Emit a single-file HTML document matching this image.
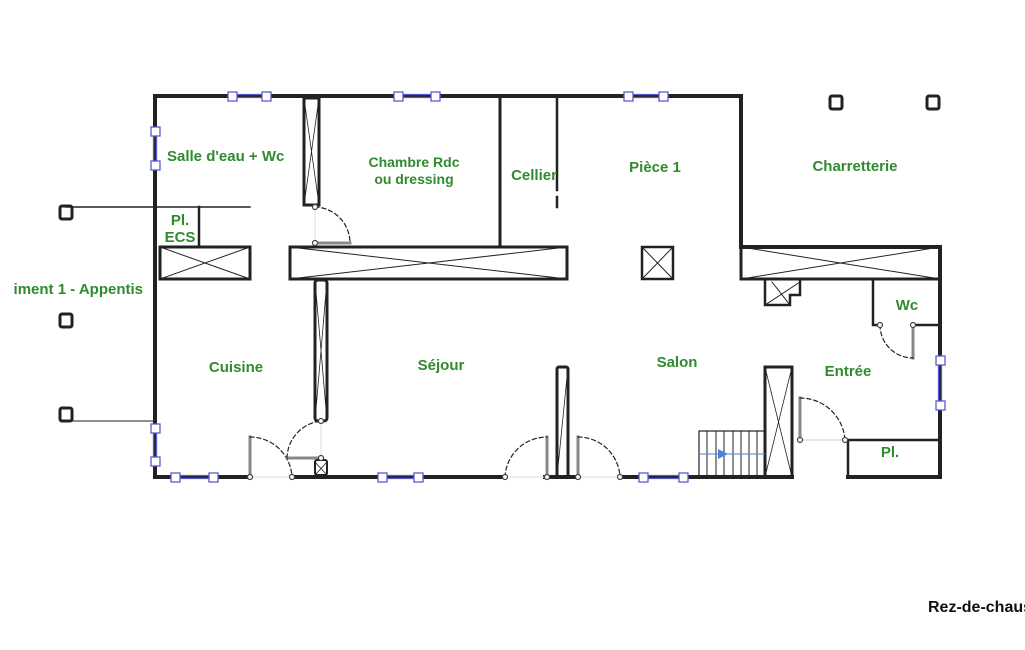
<!DOCTYPE html>
<html><head><meta charset="utf-8"><style>
html,body{margin:0;padding:0;background:#fff;width:1025px;height:650px;overflow:hidden}
svg{display:block}
text{font-family:"Liberation Sans",sans-serif;font-weight:bold;fill:#2e8b2e;font-size:15px}
</style></head><body>
<svg width="1025" height="650" viewBox="0 0 1025 650" xmlns="http://www.w3.org/2000/svg">
<g stroke="#222" fill="none" stroke-linecap="square">
<!-- outer walls -->
<path d="M155 96 H741 V247 H940 V477" stroke-width="4"/>
<path d="M155 96 V477 H250" stroke-width="4"/>
<path d="M292 477 H505" stroke-width="4"/>
<path d="M545 477 H578" stroke-width="4"/>
<path d="M620 477 H792" stroke-width="4"/>
<path d="M848 477 H940" stroke-width="4"/>
<!-- external lines -->
<path d="M66 207 H250" stroke-width="1.5"/>
<path d="M66 421 H155" stroke-width="1"/>
<!-- interior walls -->
<path d="M500 96 V247" stroke-width="3"/>
<path d="M557 96 V190 M557 197 V207" stroke-width="2.5"/>
<path d="M199 207 V247" stroke-width="2.5"/>
<!-- Salle d'eau partition -->
<rect x="304" y="98" width="15" height="107" stroke-width="3"/>
<path d="M304 98 L319 205 M319 98 L304 205" stroke-width="0.8"/>
<!-- beams -->
<rect x="160" y="247" width="90" height="32" stroke-width="3"/>
<path d="M160 247 L250 279 M250 247 L160 279" stroke-width="1"/>
<rect x="290" y="247" width="277" height="32" stroke-width="3"/>
<path d="M290 247 L567 279 M567 247 L290 279" stroke-width="1"/>
<rect x="642" y="247" width="31" height="32" stroke-width="2.5"/>
<path d="M642 247 L673 279 M673 247 L642 279" stroke-width="1"/>
<rect x="741" y="247" width="199" height="32" stroke-width="3"/>
<path d="M741 247 L940 279 M940 247 L741 279" stroke-width="1"/>
<path d="M765 280 V305 H790 V295 H800 V280" stroke-width="2.5"/>
<path d="M765 305 L800 282 M772 282 L790 305" stroke-width="1"/>
<!-- sejour partition -->
<rect x="315" y="280" width="12" height="141" rx="3" stroke-width="3"/>
<path d="M315 280 L327 421 M327 280 L315 421" stroke-width="0.8"/>
<!-- wc -->
<path d="M873 279 V325 H880 M915 325 H940" stroke-width="2.5"/>
<path d="M913 327 V358" stroke="#888" stroke-width="3"/>
<path d="M880 325 A33 33 0 0 0 913 358" stroke-dasharray="4,3" stroke-width="1.2"/>
<!-- pillar near stairs -->
<rect x="765" y="367" width="27" height="110" stroke-width="3"/>
<path d="M765 367 L792 477 M792 367 L765 477" stroke-width="0.8"/>
<!-- stairs -->
<rect x="699" y="431" width="66" height="46" stroke-width="1.2"/>
<path d="M707 431V477M716 431V477M724 431V477M733 431V477M741 431V477M749 431V477M757 431V477" stroke-width="1"/>
<!-- Pl. -->
<path d="M848 440 V477 M848 440 H940" stroke-width="2.5"/>
<path d="M800 398 V440" stroke="#888" stroke-width="3"/>
<path d="M800 398 A45 45 0 0 1 845 440" stroke-dasharray="4,3" stroke-width="1.2"/>
<path d="M800 440 H845" stroke="#ccc" stroke-width="1"/>
<!-- pillar near salon doors -->
<rect x="557" y="367" width="11" height="110" rx="2" stroke-width="3"/>
<path d="M557 477 L568 367" stroke-width="0.8"/>
<path d="M547 437 V477 M578 437 V477" stroke="#888" stroke-width="3"/>
<path d="M505 477 A42 42 0 0 1 547 437 M578 437 A42 42 0 0 1 620 477" stroke-dasharray="4,3" stroke-width="1.2"/>
<!-- cuisine door -->
<path d="M250 437 V477" stroke="#888" stroke-width="3"/>
<path d="M250 437 A42 42 0 0 1 292 477" stroke-dasharray="4,3" stroke-width="1.2"/>
<path d="M287 458 H321" stroke="#888" stroke-width="3"/>
<path d="M287 458 A38 38 0 0 1 321 421" stroke-dasharray="4,3" stroke-width="1.2"/>
<rect x="315" y="460" width="12" height="15" rx="2" stroke-width="2"/>
<path d="M315 462 L327 475 M327 462 L315 475" stroke-width="0.8"/>
<!-- chambre door -->
<path d="M315 243 H350" stroke="#888" stroke-width="3"/>
<path d="M315 207 A36 36 0 0 1 350 243" stroke-dasharray="4,3" stroke-width="1.2"/>
<path d="M315 207 V243 M321 421 V458 M250 477 H292 M505 477 H545 M578 477 H620" stroke="#ddd" stroke-width="1"/>
<!-- external squares -->
<g stroke-width="3"><rect x="60" y="206" width="12" height="13" rx="2"/><rect x="60" y="314" width="12" height="13" rx="2"/><rect x="60" y="408" width="12" height="13" rx="2"/><rect x="830" y="96" width="12" height="13" rx="2"/><rect x="927" y="96" width="12" height="13" rx="2"/></g>
</g>
<!-- hinge dots -->
<g fill="#fff" stroke="#444" stroke-width="1.2">
<circle cx="250" cy="477" r="2.5"/><circle cx="292" cy="477" r="2.5"/><circle cx="505" cy="477" r="2.5"/><circle cx="547" cy="477" r="2.5"/><circle cx="578" cy="477" r="2.5"/><circle cx="620" cy="477" r="2.5"/><circle cx="315" cy="207" r="2.5"/><circle cx="315" cy="243" r="2.5"/><circle cx="321" cy="421" r="2.5"/><circle cx="321" cy="458" r="2.5"/><circle cx="880" cy="325" r="2.5"/><circle cx="913" cy="325" r="2.5"/><circle cx="800" cy="440" r="2.5"/><circle cx="845" cy="440" r="2.5"/>
</g>
<!-- windows -->
<g stroke="#5a5ad0" fill="#fff" stroke-width="1.3">
<path d="M232 94.5H266M232 97.5H266M398 94.5H435M398 97.5H435M628 94.5H663M628 97.5H663M175 475.5H213M175 478.5H213M382 475.5H418M382 478.5H418M643 475.5H683M643 478.5H683" />
<path d="M153.5 131V166M156.5 131V166M153.5 428V462M156.5 428V462M938.5 360V406M941.5 360V406"/>
<rect x="228" y="92" width="9" height="9"/><rect x="262" y="92" width="9" height="9"/>
<rect x="394" y="92" width="9" height="9"/><rect x="431" y="92" width="9" height="9"/>
<rect x="624" y="92" width="9" height="9"/><rect x="659" y="92" width="9" height="9"/>
<rect x="171" y="473" width="9" height="9"/><rect x="209" y="473" width="9" height="9"/>
<rect x="378" y="473" width="9" height="9"/><rect x="414" y="473" width="9" height="9"/>
<rect x="639" y="473" width="9" height="9"/><rect x="679" y="473" width="9" height="9"/>
<rect x="151" y="127" width="9" height="9"/><rect x="151" y="161" width="9" height="9"/>
<rect x="151" y="424" width="9" height="9"/><rect x="151" y="457" width="9" height="9"/>
<rect x="936" y="356" width="9" height="9"/><rect x="936" y="401" width="9" height="9"/>
</g>
<path d="M699 454 H765" stroke="#4a7fe0" stroke-width="1"/>
<path d="M718 449 L728 454 L718 459Z" fill="#4a7fe0"/>
<!-- labels -->
<text x="167" y="161">Salle d'eau + Wc</text>
<text x="414" y="167" text-anchor="middle" style="font-size:14px">Chambre Rdc</text>
<text x="414" y="184" text-anchor="middle" style="font-size:14px">ou dressing</text>
<text x="534" y="180" text-anchor="middle">Cellier</text>
<text x="655" y="172" text-anchor="middle">Pièce 1</text>
<text x="855" y="171" text-anchor="middle">Charretterie</text>
<text x="180" y="225" text-anchor="middle">Pl.</text>
<text x="180" y="242" text-anchor="middle">ECS</text>
<text x="143" y="294" text-anchor="end">iment 1 - Appentis</text>
<text x="236" y="372" text-anchor="middle">Cuisine</text>
<text x="441" y="370" text-anchor="middle">Séjour</text>
<text x="677" y="367" text-anchor="middle">Salon</text>
<text x="848" y="376" text-anchor="middle">Entrée</text>
<text x="907" y="310" text-anchor="middle">Wc</text>
<text x="890" y="457" text-anchor="middle">Pl.</text>
<text x="928" y="612" style="fill:#111;font-size:16px">Rez-de-chaussée</text>
</svg>
</body></html>
